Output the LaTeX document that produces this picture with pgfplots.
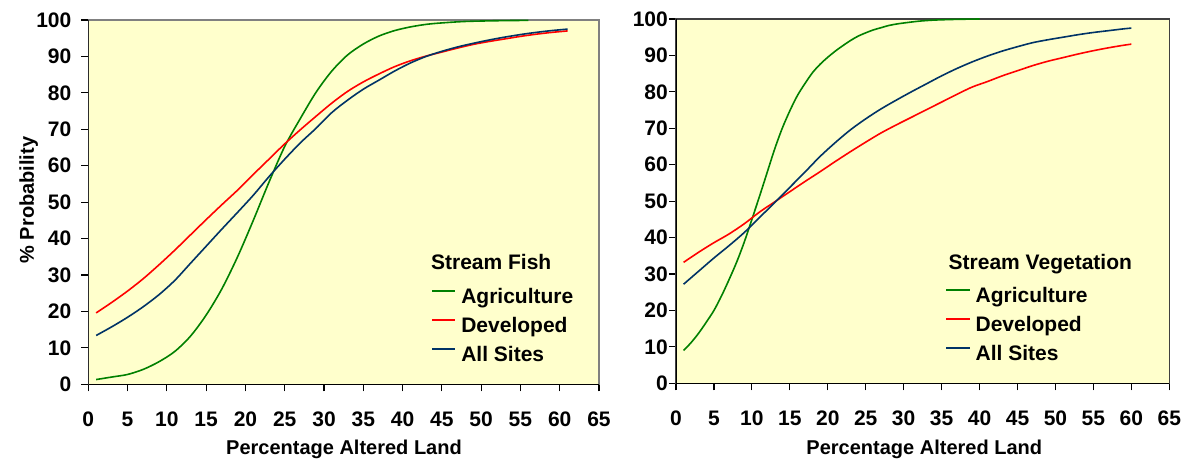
\documentclass[border=0pt]{standalone}
\usepackage{fontspec}
\setmainfont{Liberation Sans}
\usepackage{pgfplots}
\pgfplotsset{compat=1.18}
\definecolor{bgy}{HTML}{FFFFCC}
\definecolor{agr}{HTML}{008000}
\definecolor{dev}{HTML}{FF0000}
\definecolor{alls}{HTML}{003366}
\pgfplotsset{
  panel/.style={
    scale only axis, anchor=south west,
    height=182.15pt,
    xmin=0, xmax=65, ymin=0, ymax=100,
    xtick={0,5,...,65}, ytick={0,10,...,100},
    axis background/.style={fill=bgy},
    axis line style={draw=gray, line width=0.6pt},
    tick align=outside, tick pos=left, major tick length=3.5pt,
    tick style={black, line width=0.6pt},
    /pgf/number format/assume math mode=true,
    ticklabel style={font=\fontsize{10.5}{12}\selectfont\bfseries, inner sep=0pt},
    x tick label style={anchor=north, yshift=-10.2pt},
    legend cell align=left,
    legend style={draw=none, fill=none, inner sep=0pt, row sep=4.5pt,
      font=\fontsize{10.5}{12}\selectfont\bfseries,
      nodes={inner sep=0pt, text height=7.5pt, text depth=2.5pt}},
    legend image code/.code={\path[draw, line width=1pt] (0pt,3.75pt) -- (11.6pt,3.75pt); \path[draw=none, fill=none] (0pt,0pt) rectangle (14.6pt,0.1pt);},
    every axis plot/.append style={line width=0.8pt, smooth, no markers},
  }
}
\begin{document}
\begin{tikzpicture}
\path[use as bounding box] (-44.15pt,-37.85pt) rectangle (548.35pt,192.15pt);
% ---------------- left panel ----------------
\begin{axis}[panel, at={(0pt,0pt)}, width=255.35pt,
  y tick label style={anchor=east, xshift=-4.8pt},
  legend style={at={(rel axis cs:0.6705,0.263)}, anchor=north west}]
\addplot[color=agr] coordinates {(1,1.3)(3,2.0)(5,2.7)(7,4.1)(9,6.2)(11,9.0)(13,13.2)(15,19.0)(17,26.2)(19,35.0)(21,45.0)(23,55.5)(25,65.3)(27,73.0)(29,80.2)(31,86.0)(33,90.4)(35,93.4)(37,95.6)(39,97.1)(41,98.1)(43,98.8)(45,99.2)(48,99.6)(52,99.8)(56,99.9)};
\addlegendentry{Agriculture}
\addplot[color=dev] coordinates {(1,19.6)(3,22.5)(5,25.6)(7,29.0)(9,32.8)(11,36.8)(13,41.0)(15,45.2)(17,49.3)(19,53.3)(21,57.6)(23,61.8)(25,66.0)(27,69.9)(29,73.6)(31,77.2)(33,80.4)(35,83.0)(37,85.2)(39,87.2)(41,88.8)(43,90.1)(45,91.2)(47,92.3)(49,93.3)(51,94.1)(53,94.8)(55,95.5)(57,96.1)(59,96.6)(61,97.0)};
\addlegendentry{Developed}
\addplot[color=alls] coordinates {(1,13.4)(3,15.8)(5,18.4)(7,21.3)(9,24.6)(11,28.5)(13,33.2)(15,37.9)(17,42.6)(19,47.2)(21,51.9)(23,57.0)(25,61.8)(27,66.3)(29,70.3)(31,74.6)(33,78.0)(35,81.0)(37,83.5)(39,86.0)(41,88.2)(43,90.0)(45,91.4)(47,92.6)(49,93.6)(51,94.5)(53,95.3)(55,96.0)(57,96.6)(59,97.1)(61,97.5)};
\addlegendentry{All Sites}
\draw[black, line width=0.6pt] (rel axis cs:0,1) -- (rel axis cs:0,0) -- (rel axis cs:1,0);
\node[anchor=base west, inner sep=0pt, font=\fontsize{10.5}{12}\selectfont\bfseries] at (rel axis cs:0.6705,0.315) {Stream Fish};
\end{axis}
% ---------------- right panel ----------------
\begin{axis}[panel, at={(293.85pt,0.5pt)}, width=246.65pt,
  axis line style={draw=black!75},
  y tick label style={anchor=east, xshift=-0.4pt},
  legend style={at={(rel axis cs:0.5453,0.263)}, anchor=north west}]
\addplot[color=agr] coordinates {(1,9.0)(2,11.2)(3,13.8)(4,16.8)(5,20.0)(6,24.0)(7,28.5)(8,33.3)(9,38.8)(10,45.0)(11,51.3)(12,57.8)(13,64.3)(14,70.0)(15,74.8)(16,79.0)(17,82.3)(18,85.3)(19,87.6)(20,89.5)(21,91.2)(22,92.7)(23,94.1)(24,95.3)(25,96.2)(26,97.0)(27,97.6)(28,98.2)(29,98.6)(30,98.9)(32,99.4)(34,99.7)(37,99.9)(40,100)};
\addlegendentry{Agriculture}
\addplot[color=dev] coordinates {(1,33.2)(3,36.0)(5,38.6)(7,41.0)(9,43.8)(11,47.0)(13,49.8)(15,52.6)(17,55.4)(19,58.1)(21,60.9)(23,63.6)(25,66.2)(27,68.7)(29,70.9)(31,73.0)(33,75.1)(35,77.2)(37,79.3)(39,81.3)(41,82.8)(43,84.4)(45,85.8)(47,87.2)(49,88.4)(51,89.4)(53,90.4)(55,91.3)(57,92.1)(59,92.8)(60,93.1)};
\addlegendentry{Developed}
\addplot[color=alls] coordinates {(1,27.2)(3,30.8)(5,34.4)(7,37.8)(9,41.4)(11,45.5)(13,49.6)(15,53.8)(17,58.0)(19,62.3)(21,66.1)(23,69.6)(25,72.6)(27,75.3)(29,77.7)(31,80.0)(33,82.2)(35,84.4)(37,86.4)(39,88.2)(41,89.8)(43,91.2)(45,92.4)(47,93.5)(49,94.3)(51,95.0)(53,95.7)(55,96.3)(57,96.8)(59,97.3)(60,97.5)};
\addlegendentry{All Sites}
\draw[black, line width=0.6pt] (rel axis cs:0,1) -- (rel axis cs:0,0) -- (rel axis cs:1,0);
\node[anchor=base west, inner sep=0pt, font=\fontsize{10.5}{12}\selectfont\bfseries] at (rel axis cs:0.552,0.311) {Stream Vegetation};
\end{axis}
% ---------------- axis titles ----------------
\node[rotate=90, anchor=base, inner sep=0pt, font=\fontsize{10}{12}\selectfont\bfseries] at (-27.15pt,92.15pt) {\% Probability};
\node[anchor=base, inner sep=0pt, font=\fontsize{10}{12}\selectfont\bfseries] at (127.85pt,-35.35pt) {Percentage Altered Land};
\node[anchor=base, inner sep=0pt, font=\fontsize{10}{12}\selectfont\bfseries] at (418pt,-35.35pt) {Percentage Altered Land};
\end{tikzpicture}
\end{document}
